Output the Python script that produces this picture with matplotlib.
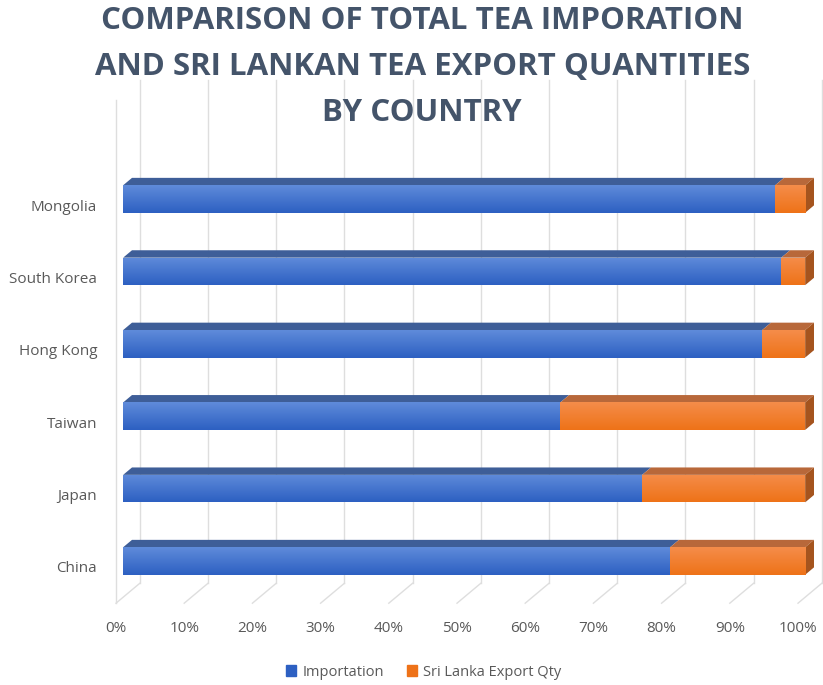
import numpy as np
import matplotlib.pyplot as plt
from matplotlib.patches import Polygon, Patch
from matplotlib.colors import LinearSegmentedColormap

countries = ["China", "Japan", "Taiwan", "Hong Kong", "South Korea", "Mongolia"]
importation = [0.802, 0.761, 0.641, 0.937, 0.965, 0.956]
sri_lanka = [1 - v for v in importation]
ticks = np.arange(0, 1.01, 0.1)
tick_labels = [f"{int(round(t * 100))}%" for t in ticks]

# name, values, front top colour, front bottom colour, top face, side face
series = [("Importation", importation, "#5F8BDA", "#2D60C2", "#3E5E98", "#2F4F8A"),
          ("Sri Lanka Export Qty", sri_lanka, "#F58D4A", "#EE7218", "#B8683A", "#A5541E")]

# 3d look: full floor depth vector in data units
DX, DY = 0.035, 0.276
front, depth, h = 0.3, 0.37, 0.38
ox, oy = front * DX, front * DY
bdx, bdy = depth * DX, depth * DY

W, H = 823, 685
fig = plt.figure(figsize=(W / 100, H / 100), dpi=100)
ax = fig.add_axes([100 / W, 70 / H, 723 / W, 540 / H])
xlim = (-16 / 682, 707 / 682)
ylim = (-48 / 72.4, 492 / 72.4)
for s in ax.spines.values():
    s.set_visible(False)

grid = "#DEDEDE"
y_floor, y_top = -0.5, 6.73
for t in ticks:
    ax.plot([t + DX, t + DX], [y_floor + DY, y_top], color=grid, lw=1, zorder=0)
    ax.plot([t, t + DX], [y_floor, y_floor + DY], color=grid, lw=1, zorder=0)
ax.plot([0, 0], [y_floor, y_top - DY], color=grid, lw=1, zorder=0)

pos = np.arange(len(countries))
left = np.zeros(len(countries))
grad = np.linspace(1, 0, 50).reshape(-1, 1)
for name, vals, c_hi, c_lo, c_top, c_side in series:
    vals = np.array(vals)
    cmap = LinearSegmentedColormap.from_list(name, [c_lo, c_hi])
    bars = ax.barh(pos + oy, vals, left=left + ox, height=h, color=c_lo, zorder=2)
    for i, b in enumerate(bars):
        x0, x1 = left[i] + ox, left[i] + vals[i] + ox
        yt = pos[i] + oy + h / 2
        yb = yt - h
        im = ax.imshow(grad, cmap=cmap, extent=(x0, x1, yb, yt), aspect="auto",
                       interpolation="bilinear", zorder=2.5)
        im.set_clip_path(b)
        ax.add_patch(Polygon([(x0, yt), (x1, yt), (x1 + bdx, yt + bdy), (x0 + bdx, yt + bdy)],
                             closed=True, facecolor=c_top, edgecolor="none", zorder=2))
        if abs(left[i] + vals[i] - 1) < 1e-9:
            ax.add_patch(Polygon([(x1, yb), (x1, yt), (x1 + bdx, yt + bdy), (x1 + bdx, yb + bdy)],
                                 closed=True, facecolor=c_side, edgecolor="none", zorder=2))
    left += vals

ax.set_xlim(*xlim)
ax.set_ylim(*ylim)
ax.set_yticks(pos)
ax.set_yticklabels(countries, fontsize=11, color="#595959", family="Open Sans")
ax.set_xticks(ticks)
ax.set_xticklabels(tick_labels, fontsize=11, color="#595959", family="Open Sans")
ax.tick_params(axis="both", length=0)
ax.tick_params(axis="y", pad=2)
ax.tick_params(axis="x", pad=4)

fig.text(0.513, 1 - 67 / H, "COMPARISON OF TOTAL TEA IMPORATION\nAND SRI LANKAN TEA EXPORT QUANTITIES\nBY COUNTRY",
         ha="center", va="center", fontsize=22.5, fontweight="bold", color="#44546A",
         family="Open Sans", linespacing=1.7, zorder=5)

handles = [Patch(color=s[3], label=s[0]) for s in series]
fig.legend(handles=handles, loc="center", bbox_to_anchor=(0.515, 1 - 672 / H), ncol=2,
           frameon=False, prop={"family": "Open Sans", "size": 10.5}, labelcolor="#595959",
           handlelength=0.7, handleheight=0.7, handletextpad=0.4, columnspacing=1.6)

fig.savefig("out.png", dpi=100)
